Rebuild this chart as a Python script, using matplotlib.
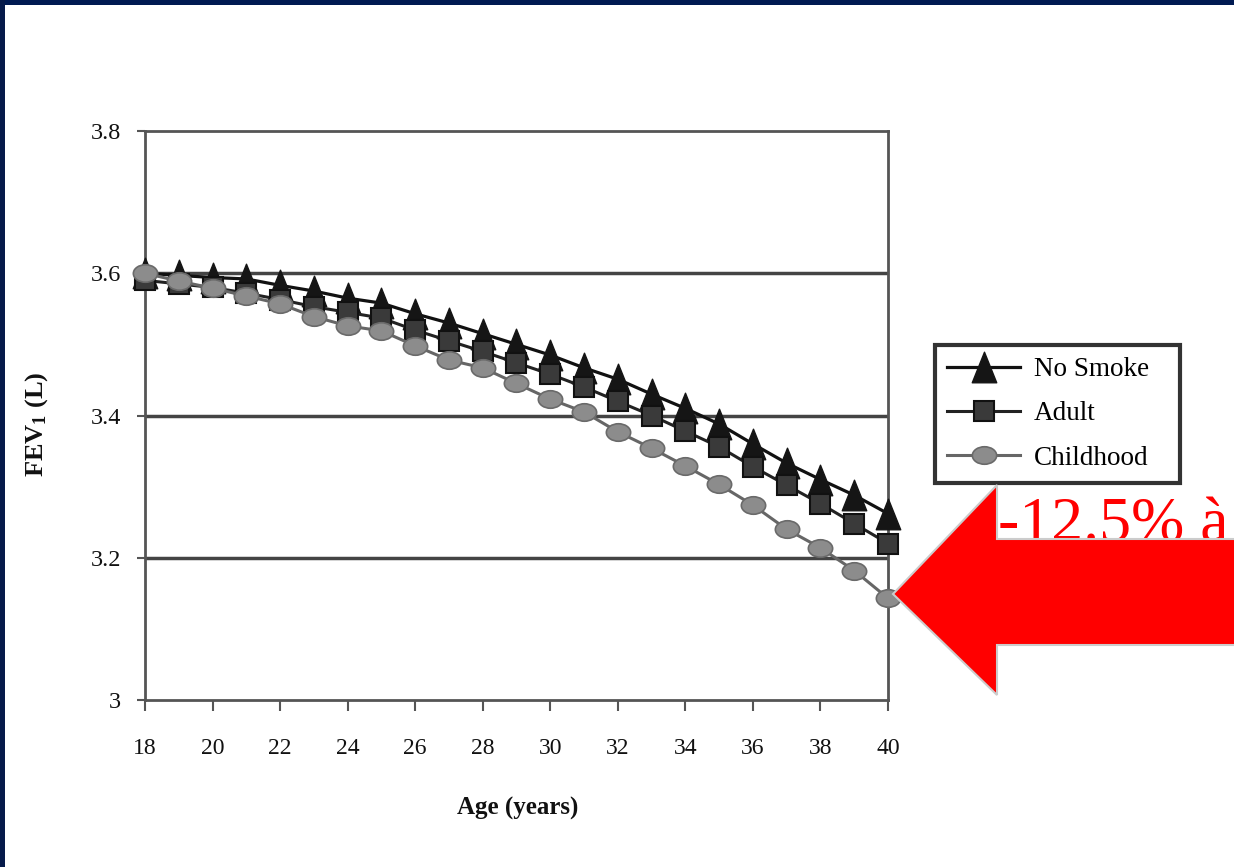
import matplotlib
matplotlib.use("Agg")
import matplotlib.pyplot as plt
import numpy as np
from matplotlib.path import Path
from matplotlib.patches import Polygon, Rectangle

# ---- data ----
ages = list(range(18, 41))
no_smoke = [3.600, 3.597, 3.594, 3.592, 3.583, 3.575, 3.565, 3.558, 3.543, 3.530, 3.515, 3.500,
            3.485, 3.467, 3.451, 3.430, 3.410, 3.388, 3.360, 3.333, 3.310, 3.288, 3.262]
adult = [3.590, 3.585, 3.580, 3.572, 3.563, 3.553, 3.545, 3.537, 3.520, 3.505, 3.490, 3.474,
         3.458, 3.440, 3.420, 3.400, 3.378, 3.356, 3.328, 3.302, 3.276, 3.248, 3.220]
childhood = [3.600, 3.589, 3.579, 3.568, 3.557, 3.539, 3.526, 3.519, 3.498, 3.478, 3.467, 3.445,
             3.423, 3.405, 3.377, 3.354, 3.329, 3.303, 3.274, 3.240, 3.214, 3.182, 3.143]
series_labels = ["No Smoke", "Adult", "Childhood"]
xticks = list(range(18, 41, 2))
yticks = [3.0, 3.2, 3.4, 3.6, 3.8]
ytick_labels = ["3", "3.2", "3.4", "3.6", "3.8"]
annotation = "-12.5% à"

plt.rcParams["mathtext.default"] = "regular"

W, H = 1234, 867
fig = plt.figure(figsize=(W / 100, H / 100), dpi=100)
fig.patch.set_facecolor("white")

def fx(px):
    return px / W

def fy(py):
    return 1 - py / H

# navy border strips
fig.add_artist(Rectangle((0, fy(5)), 1, 5 / H, transform=fig.transFigure,
                         facecolor="#001a52", edgecolor="none", zorder=0))
fig.add_artist(Rectangle((0, 0), 5 / W, 1, transform=fig.transFigure,
                         facecolor="#061a4a", edgecolor="none", zorder=0))

serif = "Liberation Serif"
ax = fig.add_axes([fx(145), fy(700), (888 - 145) / W, (700 - 131) / H])
ax.set_xlim(18, 40)
ax.set_ylim(3.0, 3.8)

for y in [3.2, 3.4, 3.6]:
    ax.axhline(y, color="#444444", lw=2.5, zorder=1)

for s in ax.spines.values():
    s.set_color("#555555")
    s.set_linewidth(2)

ax.set_xticks(xticks)
ax.set_xticklabels([str(t) for t in xticks], fontfamily=serif, fontsize=17, color="#111111")
ax.set_yticks(yticks)
ax.set_yticklabels(ytick_labels, fontfamily=serif, fontsize=17.5, color="#111111")
ax.tick_params(axis="x", direction="out", length=8, width=1.5, color="#555555", pad=19)
ax.tick_params(axis="y", direction="out", length=6, width=1.5, color="#555555", pad=11)

# markers
tri = Path([(0, 1), (-0.8, -1), (0.8, -1), (0, 1)],
           [Path.MOVETO, Path.LINETO, Path.LINETO, Path.CLOSEPOLY])
circ = Path.unit_circle()
ellipse = Path(circ.vertices * np.array([1.0, 0.72]), circ.codes)

l1, = ax.plot(ages, no_smoke, color="#111111", lw=2.3, marker=tri, markersize=22,
              markerfacecolor="#151515", markeredgecolor="#151515", zorder=3, clip_on=False)
l2, = ax.plot(ages, adult, color="#222222", lw=2.2, marker="s", markersize=14.5,
              markerfacecolor="#3a3a3a", markeredgecolor="#111111", markeredgewidth=1.5,
              zorder=4, clip_on=False)
l3, = ax.plot(ages, childhood, color="#666666", lw=2.2, marker=ellipse, markersize=17.5,
              markerfacecolor="#8c8c8c", markeredgecolor="#6a6a6a", markeredgewidth=1.2,
              zorder=5, clip_on=False)

leg = ax.legend([l1, l2, l3], series_labels, loc="upper left",
                bbox_to_anchor=(fx(935), fy(485), (1180 - 935) / W, (485 - 345) / H),
                bbox_transform=fig.transFigure, mode="expand",
                prop={"family": serif, "size": 19.5}, frameon=True, fancybox=False,
                handlelength=2.7, handletextpad=0.5, labelspacing=0.71,
                borderpad=0.45, borderaxespad=0)
leg.get_frame().set_edgecolor("black")
leg.get_frame().set_linewidth(3)
leg.set_zorder(6)

fig.text(fx(37), fy(424), "FEV$_1$ (L)", rotation=90, ha="center", va="center",
         fontfamily=serif, fontweight="bold", fontsize=19, color="#111111")
fig.text(fx(518), fy(808), "Age (years)", ha="center", va="center",
         fontfamily=serif, fontweight="bold", fontsize=18, color="#111111")

# red annotation text (drawn under the arrow)
fig.text(fx(998), fy(541), annotation, ha="left", va="baseline",
         fontfamily=serif, fontsize=46, color="#ff0000", zorder=7)

arrow_px = [(893, 594), (997, 485), (997, 539), (1240, 539), (1240, 645),
            (997, 645), (997, 695)]
arrow = Polygon([(fx(x), fy(y)) for x, y in arrow_px], closed=True,
                transform=fig.transFigure, facecolor="#ff0000",
                edgecolor="#cccccc", linewidth=1.5, zorder=8)
fig.add_artist(arrow)

fig.savefig("out.png", dpi=100, facecolor="white")
